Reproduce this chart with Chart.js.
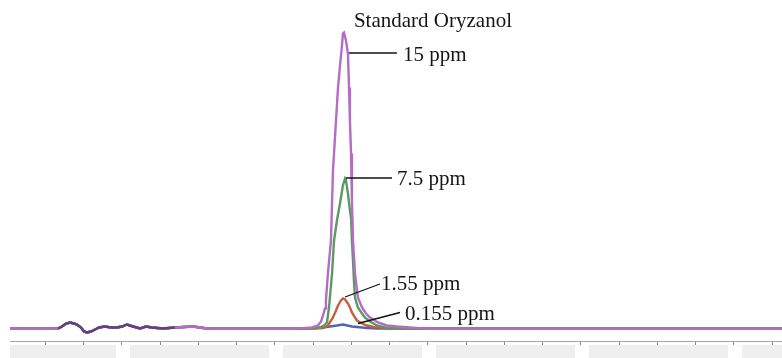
<!DOCTYPE html>
<html><head><meta charset="utf-8">
<script src="https://cdn.jsdelivr.net/npm/chart.js@4"></script>
<style>html,body{margin:0;padding:0;background:#fff;overflow:hidden}#wrap{width:782px;height:358px;position:relative}</style>
</head><body><div id="wrap"><canvas id="c" width="782" height="358"></canvas></div>
<script>
// Retention time (min) and detector response (arbitrary units)
const runStart = 0.268;
const runEnd = 5.314;

// Shared early baseline noise (solvent front region)
const noiseTimes  = [0.268, 0.582, 0.608, 0.634, 0.660, 0.686, 0.706, 0.732, 0.752, 0.771, 0.797, 0.824, 0.850, 0.889, 0.928, 0.967, 1.000, 1.033, 1.072, 1.118, 1.157, 1.196, 1.268, 1.346, 1.464, 1.510, 1.556, 1.706, 1.804];
const noiseValues = [0, 0, 4, 10, 12, 10, 8, 2, -6, -8, -6, -2, 2, 4, 2, 2, 4, 8, 4, 0, 4, 2, 0, 2, 4, 2, 0, 0, 0];

// 15 ppm
const ppm15Times  = [2.163, 2.242, 2.281, 2.301, 2.314, 2.327, 2.333, 2.346, 2.366, 2.379, 2.386, 2.399, 2.412, 2.425, 2.438, 2.444, 2.451, 2.464, 2.477, 2.484, 2.490, 2.497, 2.503, 2.510, 2.523, 2.542, 2.569, 2.595, 2.621, 2.673, 2.732, 2.797, 2.882, 2.967];
const ppm15Values = [0, 2, 6, 14, 26, 40, 56, 110, 176, 316, 350, 416, 482, 526, 566, 590, 592, 576, 550, 482, 416, 350, 256, 176, 110, 62, 42, 30, 22, 12, 6, 4, 2, 0];

// 7.5 ppm
const ppm75Times  = [2.229, 2.294, 2.320, 2.340, 2.353, 2.373, 2.386, 2.405, 2.425, 2.444, 2.458, 2.464, 2.477, 2.490, 2.497, 2.503, 2.510, 2.516, 2.523, 2.542, 2.569, 2.588, 2.621, 2.667, 2.719, 2.784];
const ppm75Values = [0, 2, 6, 12, 42, 110, 176, 216, 250, 286, 300, 296, 270, 236, 222, 176, 136, 96, 62, 42, 30, 22, 14, 6, 2, 0];

// 1.55 ppm
const ppm155Times  = [2.261, 2.314, 2.346, 2.379, 2.399, 2.412, 2.431, 2.444, 2.458, 2.477, 2.490, 2.503, 2.523, 2.536, 2.569, 2.601, 2.647, 2.686, 2.752];
const ppm155Values = [0, 1, 6, 22, 36, 46, 56, 60, 58, 50, 42, 32, 22, 16, 10, 6, 3, 2, 0];

// 0.155 ppm
const ppm0155Times  = [2.229, 2.314, 2.405, 2.444, 2.503, 2.601, 2.667];
const ppm0155Values = [0, 2, 6, 8, 4, 1, 0];

const seriesLabels = ['15 ppm', '7.5 ppm', '1.55 ppm', '0.155 ppm'];
const chartTitle = 'Standard Oryzanol';

function buildSeries(times, values) {
  const pts = noiseTimes.map((t, i) => ({x: t, y: noiseValues[i]}));
  times.forEach((t, i) => pts.push({x: t, y: values[i]}));
  pts.push({x: runEnd, y: 0});
  return pts;
}

const seriesData = [
  buildSeries(ppm15Times, ppm15Values),
  buildSeries(ppm75Times, ppm75Values),
  buildSeries(ppm155Times, ppm155Values),
  buildSeries(ppm0155Times, ppm0155Values)
];
const seriesColors = ['#b46cc6', '#5a9a62', '#c8603c', '#5563b3'];
const noiseColor = '#6a3a8c';

// Label placement (layout only), in axis units
const labelLayout = [
  {text: chartTitle, tx: 2.516, ty: 603},
  {text: seriesLabels[0], lx1: 2.484, ly1: 551, lx2: 2.797, ly2: 551, tx: 2.837, ty: 535},
  {text: seriesLabels[1], lx1: 2.464, ly1: 301, lx2: 2.765, ly2: 301, tx: 2.797, ty: 287},
  {text: seriesLabels[2], lx1: 2.458, ly1: 63, lx2: 2.686, ly2: 89, tx: 2.693, ty: 77},
  {text: seriesLabels[3], lx1: 2.542, ly1: 10, lx2: 2.817, ly2: 32, tx: 2.850, ty: 17}
];

const footerBars = {
  id: 'footerBars',
  beforeDraw(chart) {
    const {ctx, chartArea, scales} = chart;
    const xs = scales.x;
    const top = chartArea.bottom + 4;
    const h = chart.height - top;
    ctx.save();
    ctx.fillStyle = '#efefef';
    let seg = chartArea.left;
    for (let m = Math.ceil(runStart); m <= runEnd; m++) {
      const p = xs.getPixelForValue(m);
      ctx.fillRect(seg, top, (p - 6) - seg, h);
      seg = p + 8;
    }
    ctx.fillRect(seg, top, chartArea.right - seg, h);
    ctx.restore();
  }
};

const labelsPlugin = {
  id: 'peakLabels',
  afterDatasetsDraw(chart) {
    const {ctx, scales} = chart;
    const xs = scales.x, ys = scales.y;
    ctx.save();
    ctx.font = '21px "Liberation Serif", "Times New Roman", serif';
    ctx.fillStyle = '#151515';
    ctx.strokeStyle = '#111';
    ctx.lineWidth = 1.3;
    ctx.textBaseline = 'alphabetic';
    ctx.textAlign = 'left';
    labelLayout.forEach(l => {
      if (l.lx1 !== undefined) {
        ctx.beginPath();
        ctx.moveTo(xs.getPixelForValue(l.lx1), ys.getPixelForValue(l.ly1));
        ctx.lineTo(xs.getPixelForValue(l.lx2), ys.getPixelForValue(l.ly2));
        ctx.stroke();
      }
      ctx.fillText(l.text, xs.getPixelForValue(l.tx), ys.getPixelForValue(l.ty));
    });
    ctx.restore();
  }
};

new Chart(document.getElementById('c'), {
  type: 'line',
  data: {
    datasets: seriesData.map((d, i) => ({
      label: seriesLabels[i],
      data: d,
      borderColor: seriesColors[i],
      borderWidth: 2.4,
      pointRadius: 0,
      tension: 0,
      fill: false,
      segment: i === 0 ? {
        borderColor: c => (c.p0.parsed.x >= 0.58 && c.p1.parsed.x <= 1.35) ? noiseColor : undefined
      } : {}
    }))
  },
  options: {
    responsive: false,
    animation: false,
    devicePixelRatio: 1,
    layout: {padding: {left: 10, right: 0, top: 0, bottom: 13}},
    plugins: {legend: {display: false}, tooltip: {enabled: false}, title: {display: false}},
    scales: {
      x: {
        type: 'linear',
        min: runStart,
        max: runEnd,
        ticks: {display: false, stepSize: 0.25, includeBounds: false},
        grid: {drawOnChartArea: false, drawTicks: true, tickLength: 4, color: '#9a9a9a', tickColor: '#8a8a8a'},
        border: {display: true, color: '#a6a6a6', width: 1}
      },
      y: {display: false, min: -25, max: 657}
    }
  },
  plugins: [footerBars, labelsPlugin]
});
</script>
</body></html>
